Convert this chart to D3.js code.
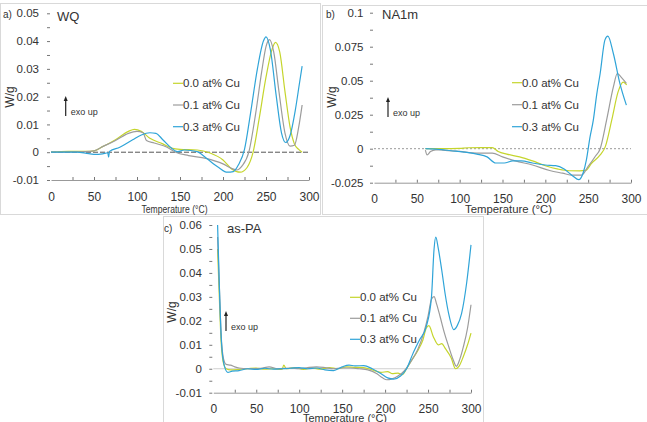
<!DOCTYPE html>
<html>
<head>
<meta charset="utf-8">
<script src="https://cdn.jsdelivr.net/npm/d3@7"></script>
<style>
  body { margin: 0; background: #fff; }
  text { font-family: "Liberation Sans", Arial, sans-serif; fill: #333; }
</style>
</head>
<body>
<script>
// series names + colours
var seriesNames = ["0.0 at% Cu", "0.1 at% Cu", "0.3 at% Cu"];
var seriesColors = ["#c5d52c", "#9c9c9c", "#2fa4d8"];

// a) WQ  [temperature, W/g]
var wqCu00 = [[0,0],[20,0.0003],[40,0.0003],[50,0.0005],[60,0.002],[75,0.0045],[90,0.0075],[97,0.0082],[105,0.0075],[115,0.005],[130,0.003],[140,0.0015],[150,0.001],[170,0.0008],[185,-0.0003],[200,-0.0028],[210,-0.006],[220,-0.0072],[228,-0.0055],[235,0],[242,0.012],[250,0.027],[257,0.037],[261,0.0395],[266,0.036],[272,0.022],[278,0.009],[283,0.003],[288,0.001],[292,0]];
var wqCu01 = [[0,0],[40,0.0002],[50,0.0005],[60,0.002],[75,0.0042],[90,0.0068],[100,0.0075],[107,0.007],[111,0.0042],[120,0.0033],[135,0.0018],[145,0],[160,-0.0012],[180,-0.0022],[200,-0.0042],[210,-0.0058],[216,-0.0064],[222,-0.005],[230,0],[238,0.014],[245,0.029],[250,0.038],[254,0.0405],[259,0.036],[265,0.022],[272,0.007],[278,0.0022],[283,0.0025],[288,0.009],[292,0.017]];
var wqCu03 = [[0,0],[30,0],[40,-0.0003],[50,-0.0008],[60,-0.0006],[66,-0.0002],[67,-0.0018],[68,0.0003],[80,0.0018],[95,0.0045],[105,0.0062],[115,0.007],[122,0.0068],[130,0.0045],[140,0.0015],[147,0.0002],[155,0.0008],[170,0.0002],[180,-0.002],[195,-0.0055],[205,-0.0072],[212,-0.007],[218,-0.0045],[225,0.001],[232,0.014],[240,0.03],[247,0.04],[250,0.0415],[255,0.037],[262,0.02],[268,0.007],[273,0.0035],[278,0.006],[284,0.015],[289,0.025],[292,0.031]];

// b) NA1m
var naCu00 = [[60,0],[80,0],[100,0.0003],[110,0.0007],[125,0.0008],[138,0.0008],[145,-0.002],[155,-0.004],[170,-0.006],[185,-0.009],[200,-0.0125],[215,-0.015],[228,-0.0162],[240,-0.0163],[247,-0.016],[254,-0.0107],[264,-0.0046],[270,0.0015],[277.5,0.021],[285,0.042],[291,0.049],[295,0.047]];
var naCu01 = [[60,-0.001],[62,-0.0045],[66,-0.002],[72,-0.0008],[80,-0.001],[100,-0.002],[120,-0.0032],[138,-0.0032],[150,-0.006],[165,-0.009],[185,-0.012],[205,-0.016],[220,-0.018],[232,-0.0195],[242,-0.0195],[250,-0.013],[258,-0.0059],[264,0],[271.5,0.021],[279.5,0.0456],[284,0.0553],[288,0.053],[294.6,0.048]];
var naCu03 = [[60,0],[75,-0.0005],[90,-0.0015],[105,-0.0025],[120,-0.004],[132,-0.006],[142,-0.0105],[152,-0.0105],[162,-0.009],[172,-0.009],[185,-0.0105],[200,-0.012],[212,-0.0125],[222,-0.015],[232,-0.02],[239,-0.0228],[244,-0.018],[248,-0.008],[252,0.008],[256,0.021],[260,0.04],[264,0.0553],[269.6,0.08],[273,0.0828],[279.4,0.07],[287,0.048],[294.6,0.032]];

// c) as-PA
var paCu00 = [[5,0.05],[7,0.03],[9,0.012],[12,0.002],[15,0],[20,-0.0005],[30,-0.0003],[40,0],[50,0.0003],[60,-0.0002],[70,0],[80,-0.0003],[82,0.0015],[85,0],[95,0.0005],[105,-0.0003],[115,0.0003],[125,-0.0002],[135,0.0005],[145,0],[155,0.0008],[165,0.0006],[175,0.0005],[185,-0.0005],[195,-0.0015],[203,-0.0012],[208,-0.002],[215,-0.0018],[220,-0.0025],[225,0],[230,0.003],[238,0.0075],[244,0.012],[248,0.017],[251,0.018],[256,0.0135],[262,0.01],[266,0.0105],[270,0.0085],[277,0.0045],[282,0],[286,0.001],[291,0.005],[296,0.01],[300,0.0149]];
var paCu01 = [[5,0.055],[7,0.035],[9,0.015],[12,0.004],[15,0.0018],[20,0.0015],[25,0.0008],[30,0.0003],[40,0],[55,0.0002],[65,0.0008],[75,0],[90,0.0003],[100,0],[110,0.0005],[120,0.0008],[130,0.0005],[140,0],[150,0.0003],[160,0.0003],[170,0],[180,-0.0005],[190,-0.002],[197,-0.0038],[202,-0.0046],[208,-0.0042],[215,-0.003],[222,-0.001],[230,0.003],[238,0.008],[245,0.015],[250,0.022],[254,0.029],[257,0.0301],[260,0.027],[264,0.0218],[269,0.015],[274,0.0093],[279,0.004],[283,0.001],[287,0.004],[291,0.009],[296,0.017],[300,0.0267]];
var paCu03 = [[5,0.06],[7,0.035],[9.7,0.01],[13,0.001],[17,-0.0015],[22,-0.001],[30,-0.0008],[40,0],[50,-0.0003],[60,0.0002],[70,-0.0002],[80,0],[90,0.0002],[100,0.0005],[110,0],[120,0.0003],[130,-0.0005],[140,-0.0008],[150,0.0008],[158,0.0015],[165,0.0012],[175,0.0013],[185,0],[195,-0.002],[203,-0.0038],[210,-0.0043],[218,-0.003],[225,0],[232,0.006],[240,0.012],[248,0.0177],[254,0.03],[257,0.05],[259,0.0549],[262,0.05],[266,0.041],[270,0.031],[274,0.023],[280,0.0163],[284,0.018],[289,0.023],[295,0.036],[300,0.0517]];

// tick values
var xMajor = [0, 50, 100, 150, 200, 250, 300];
var xMinor = [25, 50, 75, 100, 125, 150, 175, 200, 225, 250, 275, 300];
var yMajorA = [-0.01, 0, 0.01, 0.02, 0.03, 0.04, 0.05];
var yMinorA = [-0.005, 0.005, 0.015, 0.025, 0.035, 0.045];
var yMajorB = [-0.025, 0, 0.025, 0.05, 0.075, 0.1];
var yMinorB = [-0.0125, 0.0125, 0.0375, 0.0625, 0.0875];
var yMajorC = [-0.01, 0, 0.01, 0.02, 0.03, 0.04, 0.05, 0.06];
var yMinorC = [-0.005, 0.005, 0.015, 0.025, 0.035, 0.045, 0.055];

var svg = d3.select('body').append('svg')
  .attr('width', 647)
  .attr('height', 422);

function fmt(d) { return d === 0 ? "0" : String(+d.toFixed(4)); }

function drawPanel(p) {
  var g = svg.append('g');

  // panel frame
  g.append('rect')
    .attr('x', p.box[0] + 0.5).attr('y', p.box[1] + 0.5)
    .attr('width', p.box[2]).attr('height', p.box[3])
    .attr('fill', 'none').attr('stroke', '#d9d9d9');

  var x = d3.scaleLinear().domain([0, 300]).range(p.xr);
  var y = d3.scaleLinear().domain(p.yd).range(p.yr);

  // y axis (labels + dash ticks), no axis line
  var ya = g.append('g').attr('transform', 'translate(' + p.xr[0] + ',0)')
    .call(d3.axisLeft(y).tickValues(p.yMajor).tickFormat(fmt).tickSize(3).tickPadding(p.yPad));
  g.append('g').attr('transform', 'translate(' + p.xr[0] + ',0)')
    .call(d3.axisLeft(y).tickValues(p.yMinor).tickFormat('').tickSize(3));
  g.selectAll('.domain').remove();
  g.selectAll('.tick line').attr('stroke', '#777').attr('transform', 'translate(-1,0)');
  ya.selectAll('text').style('font-size', '11.5px').attr('fill', '#333');

  // zero line
  g.append('line')
    .attr('x1', p.xr[0]).attr('x2', p.xr[1])
    .attr('y1', y(0)).attr('y2', y(0))
    .attr('stroke', p.zeroColor)
    .attr('stroke-dasharray', p.zeroDash);

  // x axis
  var xg = g.append('g').attr('transform', 'translate(0,' + p.yr[0] + ')');
  xg.call(d3.axisBottom(x).tickValues(xMinor).tickFormat('').tickSizeInner(-3).tickSizeOuter(0));
  xg.select('.domain').attr('stroke', '#999');
  xg.selectAll('.tick line').attr('stroke', '#777');
  var xl = g.append('g').attr('transform', 'translate(0,' + p.yr[0] + ')')
    .call(d3.axisBottom(x).tickValues(xMajor).tickSize(0).tickPadding(p.xPad));
  xl.select('.domain').remove();
  xl.selectAll('text').style('font-size', '12px').attr('fill', '#333');

  // curves
  var line = d3.line()
    .x(function(d) { return x(d[0]); })
    .y(function(d) { return y(d[1]); })
    .curve(d3.curveMonotoneX);
  p.series.forEach(function(s, i) {
    g.append('path')
      .attr('d', line(s))
      .attr('fill', 'none')
      .attr('stroke', seriesColors[i])
      .attr('stroke-width', 1.2);
  });

  // legend
  seriesNames.forEach(function(n, i) {
    var ly = p.legend[1] + i * p.legendGap;
    g.append('line')
      .attr('x1', p.legend[0] - 10).attr('x2', p.legend[0])
      .attr('y1', ly).attr('y2', ly)
      .attr('stroke', seriesColors[i]).attr('stroke-width', 1.2);
    g.append('text')
      .attr('x', p.legend[0]).attr('y', ly + 4)
      .style('font-size', '11.5px')
      .text(n);
  });

  // exo up arrow
  var ax = p.arrow[0], ay = p.arrow[1];
  g.append('line')
    .attr('x1', ax).attr('x2', ax).attr('y1', ay).attr('y2', ay - 16)
    .attr('stroke', '#222').attr('stroke-width', 1.2);
  g.append('path')
    .attr('d', 'M' + (ax - 2) + ',' + (ay - 15) + 'L' + ax + ',' + (ay - 20) + 'L' + (ax + 2) + ',' + (ay - 15) + 'Z')
    .attr('fill', '#222');
  g.append('text')
    .attr('x', ax + 5).attr('y', ay - 1)
    .style('font-size', '9px')
    .text('exo up');

  // panel letter + title
  g.append('text').attr('x', p.letter[0]).attr('y', p.letter[1])
    .style('font-size', '10px').text(p.letterText);
  g.append('text').attr('x', p.title[0]).attr('y', p.title[1])
    .style('font-size', '13px').text(p.titleText);

  // y title
  g.append('text')
    .attr('transform', 'translate(' + p.yTitle[0] + ',' + p.yTitle[1] + ') rotate(-90)')
    .attr('text-anchor', 'middle')
    .style('font-size', '12px')
    .text('W/g');

  // x title
  g.append('text')
    .attr('x', p.xTitle[0]).attr('y', p.xTitle[1])
    .attr('text-anchor', 'middle')
    .attr('textLength', p.xTitle[2]).attr('lengthAdjust', 'spacingAndGlyphs')
    .style('font-size', '11px')
    .text('Temperature (°C)');
}

drawPanel({
  box: [0, 3, 320, 211],
  xr: [51, 309], yr: [180, 13.3], yd: [-0.01, 0.05],
  yMajor: yMajorA, yMinor: yMinorA, yPad: 9, xPad: 12,
  zeroColor: '#555', zeroDash: '5,2',
  series: [wqCu00, wqCu01, wqCu03],
  legend: [183, 83.3], legendGap: 21.7,
  arrow: [65.7, 116],
  letter: [3, 18], letterText: 'a)',
  title: [57, 21], titleText: 'WQ',
  yTitle: [14, 97],
  xTitle: [174.5, 212.5, 66]
});

drawPanel({
  box: [322, 5, 326, 209],
  xr: [374, 631], yr: [182.7, 12.7], yd: [-0.025, 0.1],
  yMajor: yMajorB, yMinor: yMinorB, yPad: 7.5, xPad: 12,
  zeroColor: '#999', zeroDash: '2,2',
  series: [naCu00, naCu01, naCu03],
  legend: [522, 82.7], legendGap: 22,
  arrow: [388, 117],
  letter: [326, 18], letterText: 'b)',
  title: [382, 19], titleText: 'NA1m',
  yTitle: [336, 97],
  xTitle: [508.5, 212.5, 87]
});

drawPanel({
  box: [163, 216, 320, 210],
  xr: [213.3, 471], yr: [392.7, 225], yd: [-0.01, 0.06],
  yMajor: yMajorC, yMinor: yMinorC, yPad: 8.5, xPad: 12,
  zeroColor: '#d0d0d0', zeroDash: null,
  series: [paCu00, paCu01, paCu03],
  legend: [360, 297.3], legendGap: 21,
  arrow: [226, 331],
  letter: [164, 232], letterText: 'c)',
  title: [227, 233], titleText: 'as-PA',
  yTitle: [176, 312],
  xTitle: [345, 421.5, 84]
});
</script>
</body>
</html>
